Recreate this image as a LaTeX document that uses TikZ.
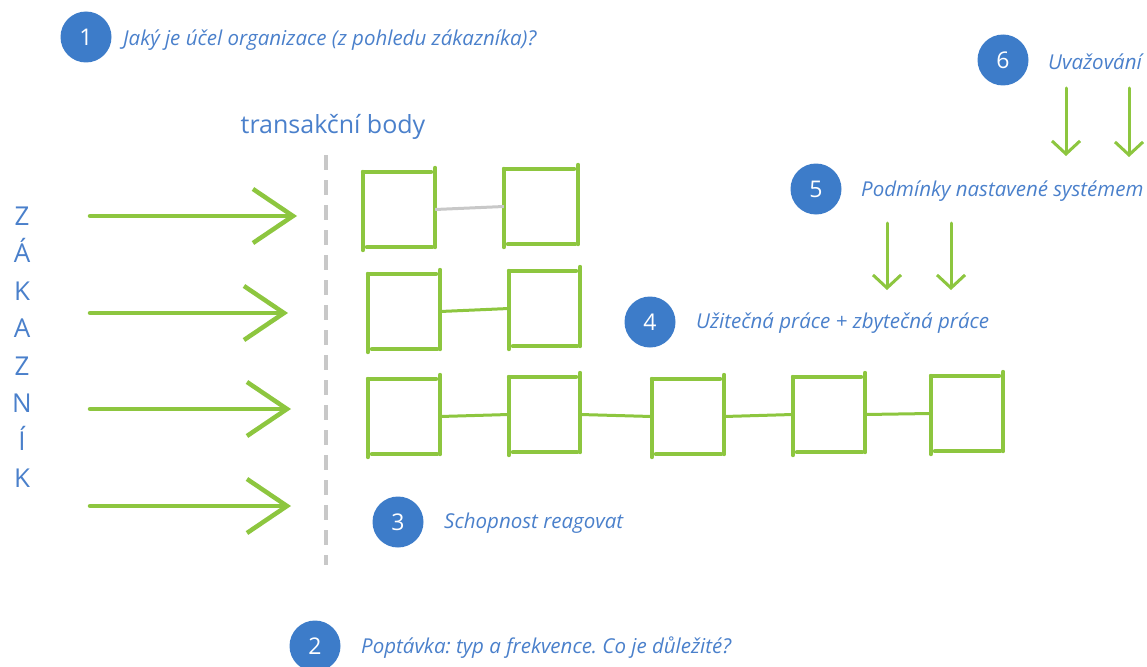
\documentclass[tikz,border=0pt]{standalone}
\usepackage{fontspec}
\setmainfont{Open Sans}
\usetikzlibrary{arrows.meta}
\definecolor{cblue}{HTML}{3D7CC9}
\definecolor{tblue}{HTML}{4A80CB}
\definecolor{chalkgreen}{HTML}{8DC63F}
\definecolor{dgray}{HTML}{C8C8C8}
\newcommand\skbox[1]{%
  \draw[chalk] (#1.north west) -- ([xshift=-4pt]#1.north east);
  \draw[chalk] (#1.north west) -- ([yshift=-3pt]#1.south west);
  \draw[chalk] ([yshift=4pt]#1.north east) -- (#1.south east);
  \draw[chalk] ([xshift=4pt]#1.south west) -- ([xshift=-3pt]#1.south east);
}
\begin{document}
\frenchspacing
\begin{tikzpicture}[x=1pt,y=-1pt,
  num/.style={circle,fill=cblue,minimum size=51pt,inner sep=0pt,text=white,font=\fontsize{23}{27}\selectfont},
  lbl/.style={anchor=west,inner sep=0pt,text=tblue,font=\fontsize{20.5}{24}\selectfont\itshape},
  chalk/.style={draw=chalkgreen,line width=4pt,line cap=round},
  box/.style={draw=none,minimum width=#1,minimum height=75pt,inner sep=0pt},
  box/.default=72pt,
  link/.style={draw=chalkgreen,line width=3pt},
  glink/.style={draw=dgray,line width=3pt},
  bigarrow/.style={draw=chalkgreen,line width=4.5pt,line cap=round,-{Straight Barb[length=40pt,width=54pt,line width=4.5pt]}},
  smallarrow/.style={draw=chalkgreen,line width=3pt,line cap=round,-{Straight Barb[length=13pt,width=28pt,line width=3pt]}},
]
\useasboundingbox (0,0) rectangle (1147,666);

% numbered labels
\node[num] (n1) at (86,37) {1};
\node[lbl] (t1) at (123,40) {Jaký je účel organizace (z pohledu zákazníka)?};
\node[num] (n6) at (1003,60) {6};
\node[lbl] (t6) at (1048,62) {Uvažování};
\node[num] (n5) at (816,189) {5};
\node[lbl] (t5) at (861,191) {Podmínky nastavené systémem};
\node[num] (n4) at (650,322) {4};
\node[lbl] (t4) at (696,323) {Užitečná práce + zbytečná práce};
\node[num] (n3) at (398,522) {3};
\node[lbl] (t3) at (444,523) {Schopnost reagovat};
\node[num] (n2) at (315,646) {2};
\node[lbl] (t2) at (361,648) {Poptávka: typ a frekvence. Co je důležité?};

% transaction points
\node[text=tblue,font=\fontsize{25}{29}\selectfont,inner sep=0pt] (tb) at (333,127) {transakční body};
\coordinate (dtop) at (326,155);
\coordinate (dbot) at (326,565);
\draw[dgray,line width=4pt,dash pattern=on 15pt off 10pt] (dtop) -- (dbot);

% customer
\node[text=tblue,font=\fontsize{26}{37.5}\selectfont,align=center,inner sep=0pt] (zak) at (22,347) {Z\\Á\\K\\A\\Z\\N\\Í\\K};

% arrows from customer
\coordinate (a1s) at (90,216);  \coordinate (a1e) at (297,216);
\coordinate (a2s) at (90,313);  \coordinate (a2e) at (288,313);
\coordinate (a3s) at (90,409);  \coordinate (a3e) at (291,409);
\coordinate (a4s) at (90,506);  \coordinate (a4e) at (291,506);
\draw[bigarrow] (a1s) -- (a1e);
\draw[bigarrow] (a2s) -- (a2e);
\draw[bigarrow] (a3s) -- (a3e);
\draw[bigarrow] (a4s) -- (a4e);

% down arrows
\coordinate (d1s) at (1066,88);  \coordinate (d1e) at (1066,156);
\coordinate (d2s) at (1129,88);  \coordinate (d2e) at (1129,157);
\coordinate (d3s) at (887,223);  \coordinate (d3e) at (887,290);
\coordinate (d4s) at (951,223);  \coordinate (d4e) at (951,290);
\draw[smallarrow] (d1s) -- (d1e);
\draw[smallarrow] (d2s) -- (d2e);
\draw[smallarrow] (d3s) -- (d3e);
\draw[smallarrow] (d4s) -- (d4e);

% row 1
\node[box] (r1a) at (399,209.5) {};
\node[box=74pt] (r1b) at (541,206.5) {};
\skbox{r1a}\skbox{r1b}
\draw[glink] (r1a.east) -- (r1b.west);

% row 2
\node[box] (r2a) at (404,311.5) {};
\node[box=71pt] (r2b) at (544.5,308.5) {};
\skbox{r2a}\skbox{r2b}
\draw[link] (r2a.east) -- (r2b.west);

% row 3
\node[box] (r3a) at (404,416.5) {};
\node[box=71pt] (r3b) at (544.5,414.5) {};
\node[box] (r3c) at (688,416.5) {};
\node[box] (r3d) at (829,414.5) {};
\node[box] (r3e) at (967,413.5) {};
\skbox{r3a}\skbox{r3b}\skbox{r3c}\skbox{r3d}\skbox{r3e}
\draw[link] (r3a.east) -- (r3b.west);
\draw[link] (r3b.east) -- (r3c.west);
\draw[link] (r3c.east) -- (r3d.west);
\draw[link] (r3d.east) -- (r3e.west);
\end{tikzpicture}
\end{document}
